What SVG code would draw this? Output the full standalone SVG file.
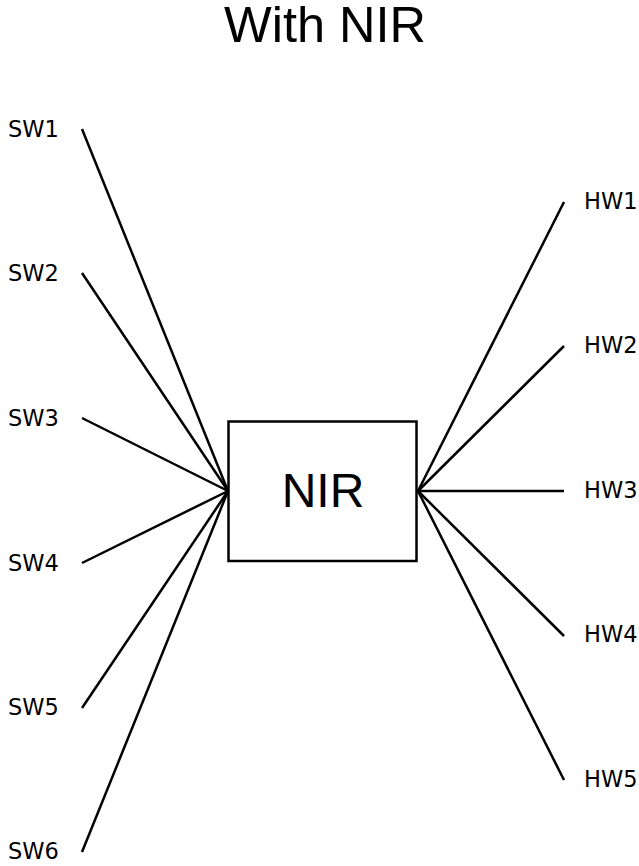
<svg xmlns="http://www.w3.org/2000/svg" width="639" height="866" viewBox="0 0 639 866">
<style>
.lbl{font-family:"DejaVu Sans",sans-serif;font-size:22.5px;fill:#000}
.big{font-family:"Liberation Sans",Arial,sans-serif;font-size:48px;fill:#000;text-anchor:middle}
.title{font-size:50.5px}
.conn line{stroke:#000;stroke-width:2.5;fill:none}
</style>
<rect width="639" height="866" fill="#fff"/>
<text class="big title" x="325" y="42">With NIR</text>
<g id="connectors" class="conn">
<line x1="82" y1="129" x2="228" y2="491"/>
<line x1="82" y1="273" x2="228" y2="491"/>
<line x1="82" y1="418" x2="228" y2="491"/>
<line x1="82" y1="563" x2="228" y2="491"/>
<line x1="82" y1="708" x2="228" y2="491"/>
<line x1="82" y1="852" x2="228" y2="491"/>
<line x1="564" y1="202" x2="418" y2="491"/>
<line x1="564" y1="346" x2="418" y2="491"/>
<line x1="564" y1="491" x2="418" y2="491"/>
<line x1="564" y1="636" x2="418" y2="491"/>
<line x1="564" y1="780" x2="418" y2="491"/>
</g>
<g id="nir">
<rect x="228.5" y="421.5" width="188" height="139.5" fill="#fff" stroke="#000" stroke-width="2.5"/>
<text class="big" x="323" y="507">NIR</text>
</g>
<g id="sw1"><text class="lbl" x="8" y="137">SW1</text></g>
<g id="sw2"><text class="lbl" x="8" y="281">SW2</text></g>
<g id="sw3"><text class="lbl" x="8" y="426">SW3</text></g>
<g id="sw4"><text class="lbl" x="8" y="571">SW4</text></g>
<g id="sw5"><text class="lbl" x="8" y="715">SW5</text></g>
<g id="sw6"><text class="lbl" x="8" y="859">SW6</text></g>
<g id="hw1"><text class="lbl" x="584" y="209">HW1</text></g>
<g id="hw2"><text class="lbl" x="584" y="353">HW2</text></g>
<g id="hw3"><text class="lbl" x="584" y="498">HW3</text></g>
<g id="hw4"><text class="lbl" x="584" y="642">HW4</text></g>
<g id="hw5"><text class="lbl" x="584" y="787">HW5</text></g>
</svg>
